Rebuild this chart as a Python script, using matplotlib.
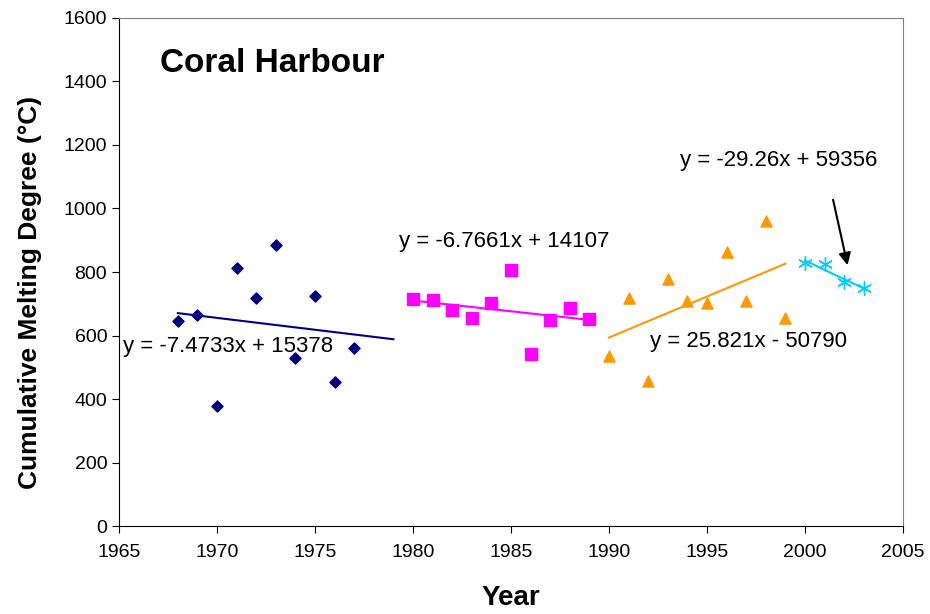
import matplotlib.pyplot as plt
import numpy as np

plt.rcParams['font.family'] = ['Liberation Sans', 'DejaVu Sans']

# data
years_a = [1968, 1969, 1970, 1971, 1972, 1973, 1974, 1975, 1976, 1977]
cmd_a = [646, 665, 378, 813, 718, 885, 529, 724, 454, 561]

years_b = [1980, 1981, 1982, 1983, 1984, 1985, 1986, 1987, 1988, 1989]
cmd_b = [715, 712, 680, 655, 702, 806, 542, 649, 687, 652]

years_c = [1990, 1991, 1992, 1993, 1994, 1995, 1996, 1997, 1998, 1999]
cmd_c = [535, 718, 457, 778, 709, 702, 863, 709, 961, 655]

years_d = [2000, 2001, 2002, 2003]
cmd_d = [828, 824, 769, 750]

# trend lines (slope, intercept, start, end)
trend_a = (-7.4733, 15378, 1968, 1979)
trend_b = (-6.7661, 14107, 1980, 1989)
trend_c = (25.821, -50790, 1990, 1999)
trend_d = (-29.26, 59356, 2000, 2003)

fig = plt.figure(figsize=(9.3, 6.14), dpi=100)
ax = fig.add_axes([0.128, 0.143, 0.843, 0.828])

ax.scatter(years_a, cmd_a, marker='D', s=32, color='#000080', zorder=3)
ax.scatter(years_b, cmd_b, marker='s', s=64, color='#FF00FF', zorder=3)
ax.scatter(years_c, cmd_c, marker='^', s=64, color='#FF9900', zorder=3)
ax.scatter(years_d, cmd_d, marker=(6, 2, 0), s=100, color='#00CCFF', linewidths=1, zorder=3)

for (m, b, x0, x1), col in zip([trend_a, trend_b, trend_c, trend_d],
                               ['#000080', '#FF00FF', '#FF9900', '#00CCFF']):
    xs = np.array([x0, x1])
    ax.plot(xs, m * xs + b, color=col, linewidth=1.5, zorder=2)

ax.set_xlim(1965, 2005)
ax.set_ylim(0, 1600)
ax.set_xticks(range(1965, 2006, 5))
ax.set_yticks(range(0, 1601, 200))
ax.tick_params(labelsize=14, length=5, direction='out')
ax.tick_params(axis='x', pad=8)

for s in ['top', 'right']:
    ax.spines[s].set_color('#808080')
for s in ['left', 'bottom']:
    ax.spines[s].set_color('black')

ax.set_xlabel('Year', fontsize=20, fontweight='bold', va='center')
ax.set_ylabel('Cumulative Melting Degree (°C)', fontsize=19, fontweight='bold', va='center')
ax.xaxis.set_label_coords(0.5, -0.142)
ax.yaxis.set_label_coords(-0.113, 0.46)

ax.text(1967.1, 1455, 'Coral Harbour', fontsize=24, fontweight='bold', va='center')
ax.text(1965.2, 567, 'y = -7.4733x + 15378', fontsize=16, va='center')
ax.text(1979.3, 895, 'y = -6.7661x + 14107', fontsize=16, va='center')
ax.text(1992.1, 580, 'y = 25.821x - 50790', fontsize=16, va='center')
ax.text(1993.6, 1150, 'y = -29.26x + 59356', fontsize=16, va='center')

ax.annotate('', xy=(2002.2, 813), xytext=(2001.4, 1036),
            arrowprops=dict(arrowstyle='-|>', color='black', lw=1.5, mutation_scale=18))

fig.savefig('out.png', dpi=100)
